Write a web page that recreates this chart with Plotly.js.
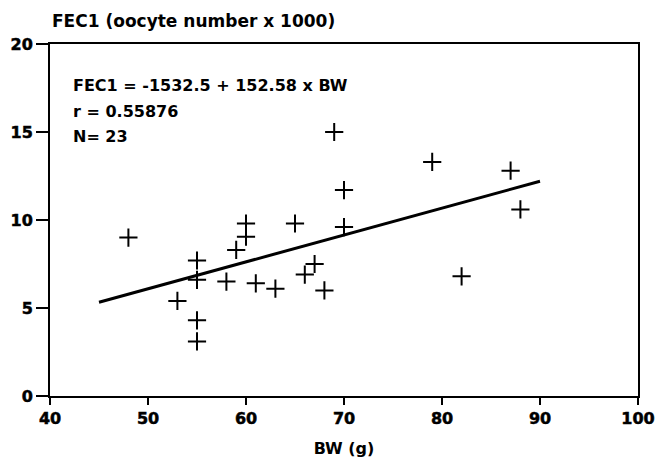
<!DOCTYPE html>
<html>
<head>
<meta charset="utf-8">
<script src="https://cdn.plot.ly/plotly-3.0.1.min.js"></script>
<style>
html,body{margin:0;padding:0;background:#fff;}
#chart{width:658px;height:470px;}
</style>
</head>
<body>
<div id="chart"></div>
<script>
// Body weight (g)
const bw = [48, 53, 55, 55, 55, 55, 58, 59, 60, 60, 61, 63, 65, 66, 67, 68, 69, 70, 70, 79, 82, 87, 88];
// FEC1 (oocyte number x 1000)
const fec1 = [9.0, 5.4, 7.7, 6.6, 4.3, 3.1, 6.5, 8.3, 9.8, 9.05, 6.4, 6.1, 9.8, 6.9, 7.5, 6.0, 15.0, 11.7, 9.6, 13.3, 6.8, 12.8, 10.6];
// Regression line endpoints
const fitX = [45, 90];
const fitY = [5.33, 12.20];
const xTicks = [40, 50, 60, 70, 80, 90, 100];
const yTicks = [0, 5, 10, 15, 20];
const eqLines = ["FEC1 = -1532.5 + 152.58 x BW", "r = 0.55876", "N= 23"];

const fam = "DejaVu Sans, Verdana, sans-serif";
const bold = (s) => ({family: fam, size: s, color: "#000", weight: "bold"});

const traces = [
  {x: fitX, y: fitY, mode: "lines", line: {color: "#000", width: 3}, hoverinfo: "skip"},
  {x: bw, y: fec1, mode: "markers",
   marker: {symbol: "cross-thin-open", size: 13, color: "#000", line: {color: "#000", width: 2}}}
];

const eqY = [0.8835, 0.807, 0.736];
const annotations = eqLines.map((t, i) => ({
  xref: "paper", yref: "paper", x: 0.035, y: eqY[i], xanchor: "left", yanchor: "middle",
  text: "<b>" + t + "</b>", showarrow: false, font: bold(16)
}));
annotations.push({
  xref: "paper", yref: "paper", x: 0.0, y: 1.0, xanchor: "left", yanchor: "bottom", yshift: 11,
  text: "<b>FEC1 (oocyte number x 1000)</b>", showarrow: false, font: bold(17)
});

const layout = {
  width: 658, height: 470,
  margin: {l: 50, r: 20, t: 44, b: 74},
  paper_bgcolor: "#fff", plot_bgcolor: "#fff",
  showlegend: false,
  font: bold(16),
  xaxis: {
    range: [40, 100], tickvals: xTicks, ticktext: xTicks.map(String),
    showgrid: false, zeroline: false, showline: true, mirror: true,
    linecolor: "#000", linewidth: 2, ticks: "outside", ticklen: 7, tickwidth: 2, tickcolor: "#000",
    tickfont: bold(16),
    title: {text: "<b>BW (g)</b>", font: bold(16), standoff: 16}
  },
  yaxis: {
    range: [0, 20], tickvals: yTicks, ticktext: yTicks.map(String),
    showgrid: false, zeroline: false, showline: true, mirror: true,
    linecolor: "#000", linewidth: 2, ticks: "outside", ticklen: 12, tickwidth: 2, tickcolor: "#000",
    tickfont: bold(16)
  },
  annotations: annotations
};

Plotly.newPlot("chart", traces, layout, {displayModeBar: false, staticPlot: true}).then((gd) => {
  gd.querySelectorAll("g.xtick > text, g.ytick > text").forEach(t => {
    t.setAttribute("font-weight", "bold");
    t.style.fontWeight = "bold";
    t.setAttribute("stroke", "#000");
    t.setAttribute("stroke-width", "0.5");
  });
});
</script>
</body>
</html>
